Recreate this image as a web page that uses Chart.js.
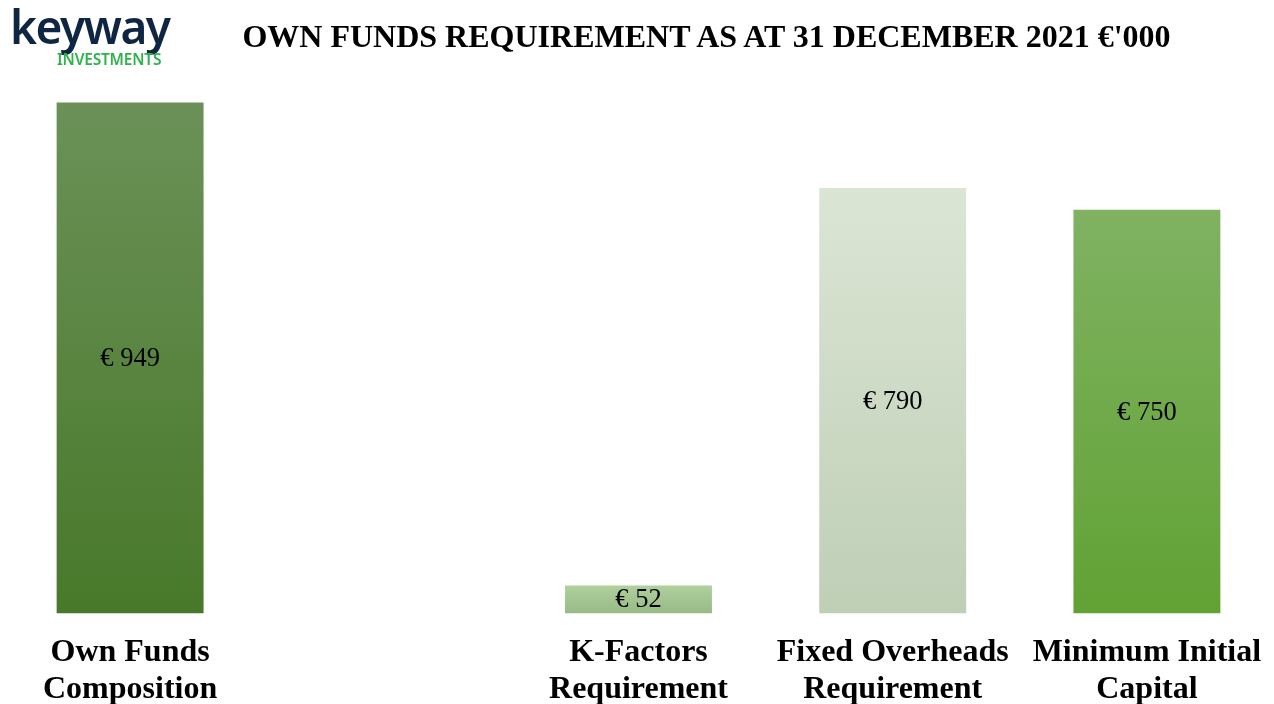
<!DOCTYPE html>
<html lang="en">
    <head>
        <meta charset="UTF-8" />
        <title>Own Funds Requirement</title>
        <script src="https://cdn.jsdelivr.net/npm/chart.js@4"></script>
    </head>
    <body>
        <style>
            * {
                padding: 0;
                margin: 0;
                box-sizing: border-box;
            }

            body {
                width: 1274px;
                height: 704px;
                background-color: #fff;
                position: relative;
                overflow: hidden;
            }

            .logo {
                position: absolute;
                left: 10px;
                top: -1px;
                font-family: "Noto Sans", sans-serif;
            }

            .logo .name {
                font-size: 46px;
                font-weight: 600;
                color: #0f2642;
                letter-spacing: -1.5px;
                line-height: 54px;
            }

            .logo .sub {
                position: absolute;
                left: 47px;
                top: 52px;
                font-size: 15.5px;
                font-weight: 600;
                color: #2fb24b;
                letter-spacing: -0.2px;
                line-height: 16px;
                white-space: nowrap;
            }

            .title {
                position: absolute;
                left: 223px;
                top: 16px;
                width: 967px;
                text-align: center;
                font-family: "Liberation Serif", serif;
                font-weight: bold;
                font-size: 32px;
                line-height: 40px;
                color: #000;
                white-space: nowrap;
            }

            .chart-container {
                position: absolute;
                left: 0;
                top: 0;
                width: 1274px;
                height: 704px;
            }
        </style>

        <div class="chart-container">
            <canvas id="fundsChart"></canvas>
        </div>
        <div class="logo">
            <div class="name">keyway</div>
            <div class="sub">INVESTMENTS</div>
        </div>
        <div class="title">OWN FUNDS REQUIREMENT AS AT 31 DECEMBER 2021 €'000</div>

        <script>
            const categories = [
                ["Own Funds", "Composition"],
                "",
                ["K-Factors", "Requirement"],
                ["Fixed Overheads", "Requirement"],
                ["Minimum Initial", "Capital"],
            ];
            const values = [949, null, 52, 790, 750];
            const topColors = ["#6b9158", null, "#b0d09e", "#dbe5d4", "#80b262"];
            const bottomColors = ["#48792a", null, "#97ba87", "#bfcfb6", "#61a234"];

            // vertical gradient for each bar, from its top down to the base
            function barGradient(context) {
                const chart = context.chart;
                const i = context.dataIndex;
                if (!chart.chartArea || values[i] == null) return topColors[i] || "#fff";
                const y = chart.scales.y;
                const g = chart.ctx.createLinearGradient(
                    0,
                    y.getPixelForValue(values[i]),
                    0,
                    y.getPixelForValue(0)
                );
                g.addColorStop(0, topColors[i]);
                g.addColorStop(1, bottomColors[i]);
                return g;
            }

            const barLabels = {
                id: "barLabels",
                afterDatasetsDraw(chart) {
                    const ctx = chart.ctx;
                    const meta = chart.getDatasetMeta(0);
                    ctx.save();
                    ctx.font = "26.5px 'Liberation Serif', serif";
                    ctx.fillStyle = "#000";
                    ctx.textAlign = "center";
                    ctx.textBaseline = "middle";
                    meta.data.forEach((bar, i) => {
                        if (values[i] == null) return;
                        ctx.fillText("€ " + values[i], bar.x, (bar.y + bar.base) / 2 + 1);
                    });
                    ctx.restore();
                },
            };

            new Chart(document.getElementById("fundsChart"), {
                type: "bar",
                data: {
                    labels: categories,
                    datasets: [
                        {
                            data: values,
                            backgroundColor: barGradient,
                            barPercentage: 0.578,
                            categoryPercentage: 1,
                        },
                    ],
                },
                options: {
                    responsive: true,
                    maintainAspectRatio: false,
                    animation: false,
                    layout: {
                        padding: { top: 75, left: 3, right: 0, bottom: 0 },
                    },
                    plugins: {
                        legend: { display: false },
                        tooltip: { enabled: false },
                    },
                    scales: {
                        x: {
                            grid: { display: false, drawTicks: false },
                            border: { display: false },
                            afterFit(scale) {
                                // keep the labels from squeezing the plot
                                scale.height = 90.5;
                                scale.paddingLeft = 0;
                                scale.paddingRight = 0;
                            },
                            ticks: {
                                color: "#000",
                                padding: 21,
                                maxRotation: 0,
                                autoSkip: false,
                                font: {
                                    family: "'Liberation Serif', serif",
                                    size: 32,
                                    weight: "bold",
                                    lineHeight: 1.16,
                                },
                            },
                        },
                        y: {
                            display: false,
                            min: 0,
                            max: 1000,
                        },
                    },
                },
                plugins: [barLabels],
            });
        </script>
    </body>
</html>
